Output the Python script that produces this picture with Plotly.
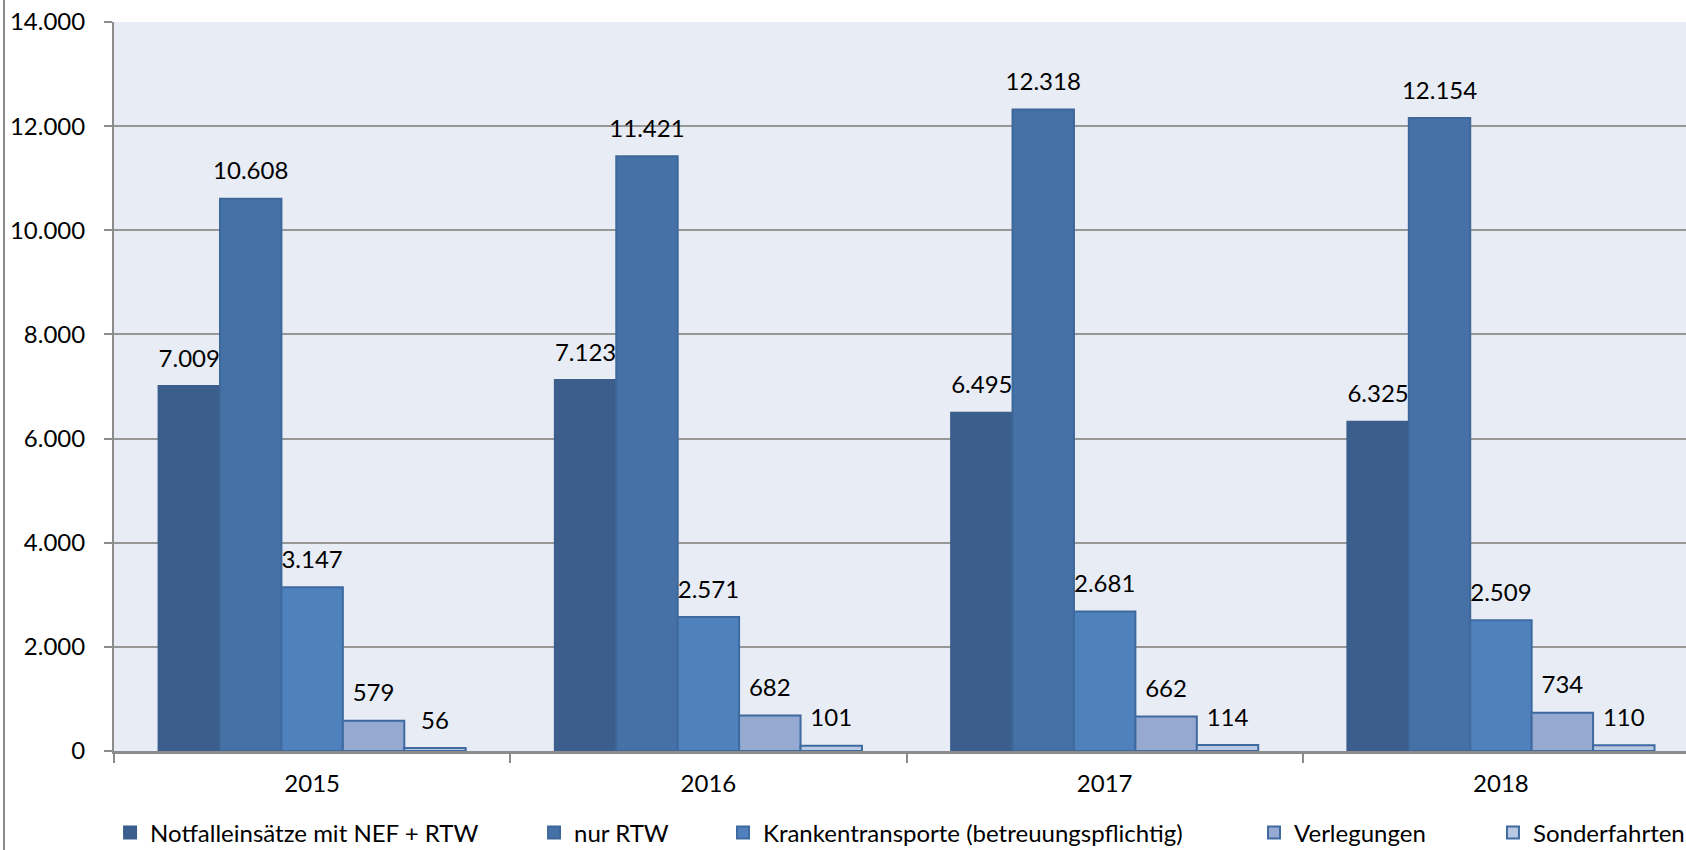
import plotly.graph_objects as go

years = ["2015", "2016", "2017", "2018"]
series_names = [
    "Notfalleinsätze mit NEF + RTW",
    "nur RTW",
    "Krankentransporte (betreuungspflichtig)",
    "Verlegungen",
    "Sonderfahrten",
]
notfall = [7009, 7123, 6495, 6325]
nur_rtw = [10608, 11421, 12318, 12154]
kranken = [3147, 2571, 2681, 2509]
verlegungen = [579, 682, 662, 734]
sonder = [56, 101, 114, 110]

colors = ["#3B5E8D", "#4571A6", "#4F81BD", "#95A9D1", "#B9C8E3"]
outlines = ["#3B5E8D", "#3E679A", "#3E6A9F", "#3E6A9F", "#3E6A9F"]
# legend anchor (paper x) for each entry, laid out like the Excel legend
legend_x = [-0.0025, 0.2672, 0.3874, 0.7252, 0.8772]

W, H = 1686, 850
ML, MT, MB = 114, 22, 99
FONT = "Lato"

fig = go.Figure()
all_values = [notfall, nur_rtw, kranken, verlegungen, sonder]
for i, (name, vals) in enumerate(zip(series_names, all_values)):
    lg = "legend" if i == 0 else f"legend{i + 1}"
    fig.add_trace(go.Bar(
        x=years, y=vals, name=name, legend=lg,
        marker=dict(color=colors[i], line=dict(color=outlines[i], width=2)),
        offsetgroup=str(i), hoverinfo="skip",
    ))
    # value labels, grouped like the bars and lifted a bit above the bar tops
    fig.add_trace(go.Scatter(
        x=years, y=vals, mode="markers+text", text=[f"{v:,}".replace(",", ".") for v in vals],
        textposition="top center", textfont=dict(family=FONT, size=24, color="#000000"),
        marker=dict(size=20, opacity=0), offsetgroup=str(i), showlegend=False,
        hoverinfo="skip", cliponaxis=False,
    ))

legends = {}
for i, x in enumerate(legend_x):
    key = "legend" if i == 0 else f"legend{i + 1}"
    legends[key] = dict(
        x=x, xanchor="left", y=-(833 - (H - MB)) / (H - MB - MT), yanchor="middle",
        orientation="h", font=dict(family=FONT, size=24, color="#000000"),
        bgcolor="rgba(0,0,0,0)", itemwidth=30,
    )

fig.update_layout(
    width=W, height=H,
    margin=dict(l=ML, r=0, t=MT, b=MB, autoexpand=False),
    paper_bgcolor="white", plot_bgcolor="#E8ECF4",
    barmode="group", bargap=0.225, bargroupgap=0,
    scattermode="group", scattergap=0.225,
    separators=",.",
    font=dict(family=FONT, size=24, color="#000000"),
    hovermode=False,
    **legends,
)
fig.update_xaxes(
    type="category", range=[-0.5, 3.467], showgrid=False,
    tickson="boundaries", ticks="outside", ticklen=9, tickwidth=2, tickcolor="#8C8C8C",
    showline=True, linecolor="#8C8C8C", linewidth=3,
    tickfont=dict(family=FONT, size=24), ticklabelstandoff=9,
)
fig.update_yaxes(
    range=[0, 14000], dtick=2000, tickformat=",",
    showgrid=True, gridcolor="#979797", gridwidth=2,
    ticks="outside", ticklen=8, tickwidth=2, tickcolor="#8C8C8C",
    showline=True, linecolor="#8C8C8C", linewidth=2, zeroline=False,
    tickfont=dict(family=FONT, size=24), ticklabelstandoff=14,
)
# outer chart frame (left edge visible in the crop)
fig.add_shape(type="line", xref="paper", yref="paper",
              x0=-110 / (W - ML), x1=-110 / (W - ML), y0=-0.2, y1=1.1,
              line=dict(color="#8C8C8C", width=2))

# the page should start at the window corner, without the default body margin
fig.write_html(
    "out.html",
    config={"displayModeBar": False},
    post_script="document.body.style.margin='0';document.body.style.overflow='hidden';",
)
